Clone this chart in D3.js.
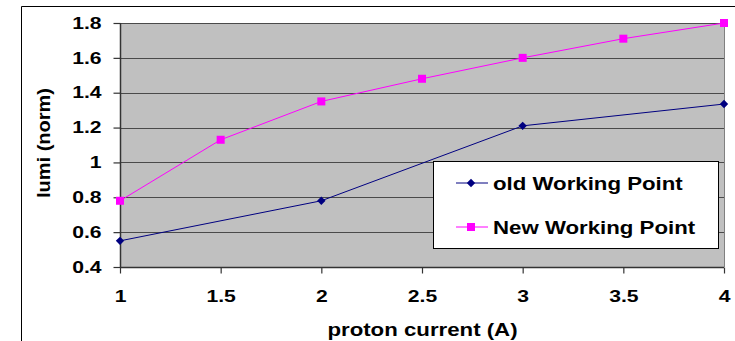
<!DOCTYPE html>
<html><head><meta charset="utf-8">
<script src="https://cdn.jsdelivr.net/npm/d3@7"></script>
<style>body{margin:0;background:#fff}svg{display:block}text{font-family:Arial,"Liberation Sans",sans-serif;font-weight:bold}</style>
</head><body>
<script>
const oldX = [1, 2, 3, 4];
const oldY = [0.55, 0.78, 1.21, 1.335];
const newX = [1, 1.5, 2, 2.5, 3, 3.5, 4];
const newY = [0.78, 1.13, 1.35, 1.48, 1.60, 1.71, 1.80];
const xTicks = [1, 1.5, 2, 2.5, 3, 3.5, 4];
const yTicks = [0.4, 0.6, 0.8, 1, 1.2, 1.4, 1.6, 1.8];
const seriesNames = ["old Working Point", "New Working Point"];

const W = 735, H = 341;
const svg = d3.select("body").append("svg").attr("width", W).attr("height", H);
const L = 120, R = 724, T = 23, B = 267;
const x = d3.scaleLinear().domain([1, 4]).range([L, R]);
const y = d3.scaleLinear().domain([0.4, 1.8]).range([B, T]);

function stretch(sel, k) {
  sel.each(function () {
    const w = this.getComputedTextLength();
    d3.select(this).attr("textLength", w * k).attr("lengthAdjust", "spacingAndGlyphs");
  });
}

// outer frame
svg.append("path").attr("d", `M21.5,${H} V6.5 H${W}`).attr("fill", "none").attr("stroke", "#000").attr("stroke-width", 1);

// plot bg
svg.append("rect").attr("x", L).attr("y", T).attr("width", R - L).attr("height", B - T).attr("fill", "#c0c0c0");
// gridlines
svg.append("g").selectAll("line").data(yTicks.slice(1)).join("line")
  .attr("x1", L).attr("x2", R).attr("y1", d => Math.round(y(d)) + 0.5).attr("y2", d => Math.round(y(d)) + 0.5)
  .attr("stroke", "#4a4a4a").attr("stroke-width", 1.2);
// right border
svg.append("line").attr("x1", R + 0.5).attr("x2", R + 0.5).attr("y1", T).attr("y2", B).attr("stroke", "#808080");

// axes
const yAxis = svg.append("g").attr("transform", `translate(${L + 0.5},0)`)
  .call(d3.axisLeft(y).tickValues(yTicks).tickSize(7).tickPadding(12).tickFormat(d => d3.format("")(+d.toFixed(1))));
const xAxis = svg.append("g").attr("transform", `translate(0,${B + 0.5})`)
  .call(d3.axisBottom(x).tickValues(xTicks).tickSize(6).tickPadding(16.5).tickFormat(d => d3.format("")(d)));
[yAxis, xAxis].forEach(g => {
  g.attr("font-size", 16.5).attr("font-family", "Arial, 'Liberation Sans', sans-serif");
  g.select(".domain").attr("stroke", "#333").attr("stroke-width", 1.5);
  g.selectAll(".tick line").attr("stroke", "#333").attr("stroke-width", 1.2);
  g.selectAll("text").attr("font-size", 16.5).attr("fill", "#000").attr("font-weight", "bold");
  stretch(g.selectAll("text"), 1.28);
});
xAxis.select(".domain").attr("d", `M${L},0H${R}`);
yAxis.select(".domain").attr("d", `M0,${B}V${T}`);

// axis titles
const xt = svg.append("text").attr("x", 422.5).attr("y", 336).attr("text-anchor", "middle").attr("font-size", 19).text("proton current (A)");
stretch(xt, 1.17);
const yt = svg.append("text").attr("transform", "translate(50,143) rotate(-90)").attr("text-anchor", "middle").attr("font-size", 19).text("lumi (norm)");
yt.attr("textLength", 110).attr("lengthAdjust", "spacingAndGlyphs");

const line = d3.line().x(d => x(d[0])).y(d => y(d[1]));
const oldData = oldX.map((v, i) => [v, oldY[i]]);
const newData = newX.map((v, i) => [v, newY[i]]);
const cNew = "#ff00ff", cOld = "#000080";

svg.append("path").datum(newData).attr("d", line).attr("fill", "none").attr("stroke", cNew).attr("stroke-width", 1);
svg.append("path").datum(oldData).attr("d", line).attr("fill", "none").attr("stroke", cOld).attr("stroke-width", 1);

svg.append("g").selectAll("rect").data(newData).join("rect")
  .attr("x", d => x(d[0]) - 4).attr("y", d => y(d[1]) - 4).attr("width", 8).attr("height", 8).attr("fill", cNew);
const diamond = d3.symbol().type(d3.symbolDiamond2).size(45);
svg.append("g").selectAll("path").data(oldData).join("path")
  .attr("transform", d => `translate(${x(d[0])},${y(d[1])})`).attr("d", diamond).attr("fill", cOld);

// legend
const lg = svg.append("g");
lg.append("rect").attr("x", 433.5).attr("y", 161.5).attr("width", 285).attr("height", 87).attr("fill", "#fff").attr("stroke", "#000");
const rows = [{n: seriesNames[0], c: cOld, yy: 183, m: "d"}, {n: seriesNames[1], c: cNew, yy: 227, m: "s"}];
rows.forEach(r => {
  lg.append("line").attr("x1", 456).attr("x2", 488).attr("y1", r.yy).attr("y2", r.yy).attr("stroke", r.c);
  if (r.m === "d") lg.append("path").attr("transform", `translate(471,${r.yy})`).attr("d", diamond).attr("fill", r.c);
  else lg.append("rect").attr("x", 467).attr("y", r.yy - 4).attr("width", 8).attr("height", 8).attr("fill", r.c);
  const t = lg.append("text").attr("x", 493).attr("y", r.yy + 7).attr("font-size", 19).text(r.n);
  stretch(t, 1.17);
});
</script>
</body></html>
